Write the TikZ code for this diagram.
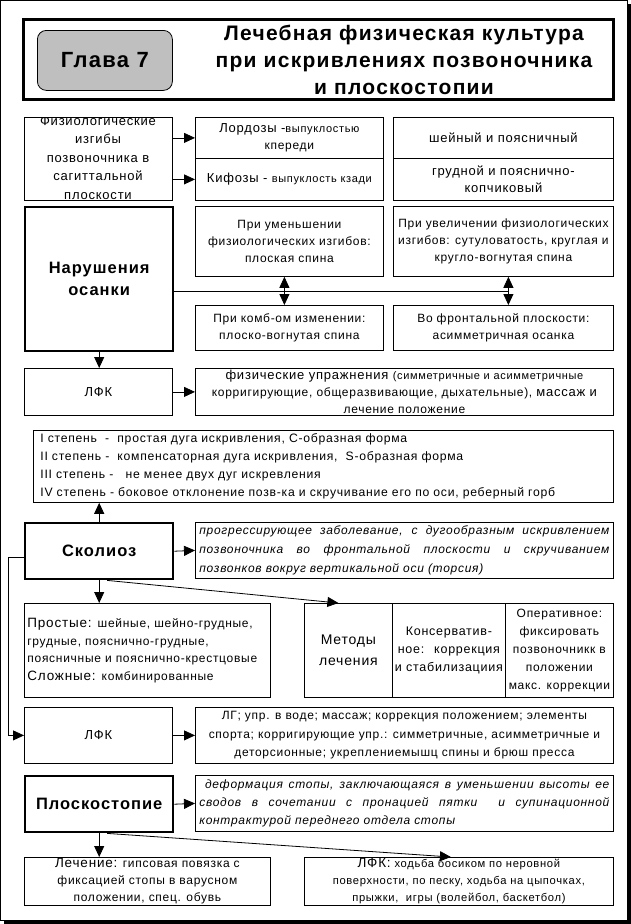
\documentclass[tikz,border=0pt]{standalone}
\usepackage{fontspec}
\setmainfont{Liberation Sans}[LetterSpace=6]
\usepackage{tikz}
\usetikzlibrary{arrows.meta}
\usetikzlibrary{calc}

\begin{document}
\begin{tikzpicture}[x=1pt,y=-1pt,
    box/.style={draw, line width=0.8pt, inner sep=0pt, align=center, anchor=north west, font=\fontsize{12}{17}\selectfont},
    mainbox/.style={box, line width=2.4pt, font=\bfseries\fontsize{16.5}{22}\selectfont},
    arr/.style={line width=0.8pt, -{Triangle[length=11pt,width=10pt]}}]
    \useasboundingbox (0,0) rectangle (631,924);
    % frame with shadow
    \fill (4,4) rectangle (631,924);
    \draw[fill=white, line width=0.8pt] (0.5,0.5) rectangle (627,920);
    % header
    \node[draw, line width=3pt, minimum width=590pt, minimum height=80pt, anchor=north west] (head) at (22,18) {};
    \node[draw, line width=0.8pt, rounded corners=9pt, fill=black!25, minimum width=135pt, minimum height=60pt, anchor=north west, font=\bfseries\fontsize{22}{26}\selectfont] (glava) at (37,30) {Глава 7};
    \node[align=center, font=\bfseries\fontsize{21}{27}\selectfont] (title) at (404,60) {Лечебная физическая культура\\при искривлениях позвоночника\\и плоскостопии};
    % physiological curves
    \begin{scope}
      \clip (24,117) rectangle (172,200);
      \node[align=center, font=\fontsize{13}{18.5}\selectfont] (fiztxt) at (98,158) {Физиологические\\изгибы\\позвоночника в\\сагиттальной\\плоскости};
    \end{scope}
    \node[box, minimum width=148pt, minimum height=83pt] (fiz) at (24,117) {};
    \node[box, minimum width=188pt, minimum height=41pt] (lord) at (195,117) {\fontsize{13}{17}\selectfont Лордозы -\fontsize{11}{17}\selectfont выпуклостью\\кпереди};
    \node[box, minimum width=188pt, minimum height=42pt] (kif) at (195,158) {\fontsize{13}{17}\selectfont Кифозы - \fontsize{11}{17}\selectfont выпуклость кзади};
    \node[box, minimum width=220pt, minimum height=41pt, font=\fontsize{13}{17}\selectfont] (shei) at (393,117) {шейный и поясничный};
    \node[box, minimum width=220pt, minimum height=42pt, font=\fontsize{13}{17}\selectfont] (grud) at (393,158) {грудной и пояснично-\\копчиковый};
    \draw[arr] (fiz.east |- lord.west) -- (lord.west);
    \draw[arr] (fiz.east |- kif.west) -- (kif.west);
    % posture
    \node[mainbox, minimum width=148pt, minimum height=144pt] (nar) at (24,206) {Нарушения\\осанки};
    \node[box, minimum width=188pt, minimum height=70pt] (umen) at (195,206) {При уменьшении\\физиологических изгибов:\\плоская спина};
    \node[box, minimum width=220pt, minimum height=70pt] (uvel) at (393,206) {При увеличении физиологических\\изгибов: сутуловатость, круглая и\\кругло-вогнутая спина};
    \node[box, minimum width=188pt, minimum height=45pt] (komb) at (195,305) {При комб-ом изменении:\\плоско-вогнутая спина};
    \node[box, minimum width=220pt, minimum height=45pt] (front) at (393,305) {Во фронтальной плоскости:\\асимметричная осанка};
    \coordinate (j1) at ($(umen.south)!0.5!(komb.north)+(-5,0)$);
    \coordinate (j2) at ($(uvel.south)!0.5!(front.north)+(5,0)$);
    \draw[line width=0.8pt] (nar.east |- j1) -- (j2);
    \draw[arr] (j1) -- (j1 |- umen.south);
    \draw[arr] (j1) -- (j1 |- komb.north);
    \draw[arr] (j2) -- (j2 |- uvel.south);
    \draw[arr] (j2) -- (j2 |- front.north);
    \draw[arr] (nar.south) -- (nar.south |- 0,368);
    \node[box, minimum width=148pt, minimum height=47pt, font=\fontsize{13}{17}\selectfont] (lfk1) at (24,368) {ЛФК};
    \node[box, minimum width=418pt, minimum height=47pt] (fu) at (195,368) {\fontsize{13}{17}\selectfont физические упражнения \fontsize{11}{17}\selectfont(симметричные и асимметричные\\корригирующие, общеразвивающие, дыхательные), \fontsize{13}{17}\selectfont массаж и\\лечение положение};
    \draw[arr] (lfk1.east) -- (fu.west);
    % scoliosis
    \node[box, minimum width=580pt, minimum height=72pt, text width=566pt, align=left, font=\fontsize{12.2}{18}\selectfont] (stepen) at (33,430) {I степень \ - \ простая дуга искривления, С-образная форма\\II степень - \ компенсаторная дуга искривления, \ S-образная форма\\III степень - \ \ не менее двух дуг искревления\\IV степень - боковое отклонение позв-ка и скручивание его по оси, реберный горб};
    \node[mainbox, minimum width=148pt, minimum height=56pt] (skol) at (24,522) {Сколиоз};
    \node[box, minimum width=418pt, minimum height=56pt, text width=410pt, align=justify, font=\itshape\fontsize{12}{19}\selectfont] (prog) at (195,522) {прогрессирующее заболевание, с дугообразным искривлением\linebreak позвоночника во фронтальной плоскости и скручиванием\linebreak позвонков вокруг вертикальной оси (торсия)};
    \draw[arr] (skol.north) -- (skol.north |- stepen.south);
    \draw[arr] (skol.east) -- (prog.west);
    \node[box, minimum width=246pt, minimum height=94pt, text width=240pt, align=left, font=\fontsize{12}{17.5}\selectfont] (prost) at (24,603) {{\fontsize{13.5}{17.5}\selectfont Простые:} шейные, шейно-грудные,\\грудные, пояснично-грудные,\\поясничные и пояснично-крестцовые\\{\fontsize{13.5}{17.5}\selectfont Сложные:} комбинированные};
    \node[box, minimum width=88pt, minimum height=94pt, font=\fontsize{14}{21}\selectfont] (met1) at (304,603) {Методы\\лечения};
    \node[box, minimum width=113pt, minimum height=94pt, font=\fontsize{12.5}{18}\selectfont] (met2) at (392,603) {Консерватив-\\ное: \ коррекция\\и стабилизациия};
    \node[box, minimum width=108pt, minimum height=94pt, font=\fontsize{12}{18}\selectfont] (met3) at (505,603) {Оперативное:\\фиксировать\\позвоночникк в\\положении\\макс. коррекции};
    \draw[arr] (skol.south) -- (skol.south |- prost.north);
    \draw[arr] ([xshift=8pt]skol.south) -- ([xshift=-10pt]met1.north);
    \node[box, minimum width=148pt, minimum height=56pt, font=\fontsize{13}{17}\selectfont] (lfk2) at (24,707) {ЛФК};
    \node[box, minimum width=418pt, minimum height=56pt, font=\fontsize{12}{18.5}\selectfont] (lg) at (195,707) {ЛГ; упр. в воде; массаж; коррекция положением; элементы\\спорта; корригирующие упр.: симметричные, асимметричные и\\деторсионные; укреплениемышц спины и брюш пресса};
    \draw[arr] (lfk2.east) -- (lg.west);
    \draw[arr] ([yshift=-6pt]skol.west) -- ++(-16,0) |- (lfk2.west);
    % flat foot
    \node[mainbox, minimum width=148pt, minimum height=56pt] (plos) at (24,775) {Плоскостопие};
    \node[box, minimum width=418pt, minimum height=56pt, text width=410pt, align=justify, font=\itshape\fontsize{12}{18}\selectfont] (deform) at (195,775) {\ деформация стопы, заключающаяся в уменьшении высоты ее\linebreak сводов в сочетании с пронацией пятки \ и супинационной\linebreak контрактурой переднего отдела стопы};
    \draw[arr] (plos.east) -- (deform.west);
    \node[box, minimum width=246pt, minimum height=48pt] (lech) at (24,857) {{\fontsize{13.5}{17}\selectfont Лечение:} гипсовая повязка с\\фиксацией стопы в варусном\\положении, спец. обувь};
    \node[box, minimum width=309pt, minimum height=48pt, font=\fontsize{11.2}{17}\selectfont] (lfk3) at (304,857) {{\fontsize{13.5}{17}\selectfont ЛФК:} ходьба босиком по неровной\\поверхности, по песку, ходьба на цыпочках,\\прыжки, \ игры (волейбол, баскетбол)};
    \draw[arr] (plos.south) -- (plos.south |- lech.north);
    \draw[arr] ([xshift=8pt]plos.south) -- ([xshift=-8pt]lfk3.north);
\end{tikzpicture}
\end{document}
